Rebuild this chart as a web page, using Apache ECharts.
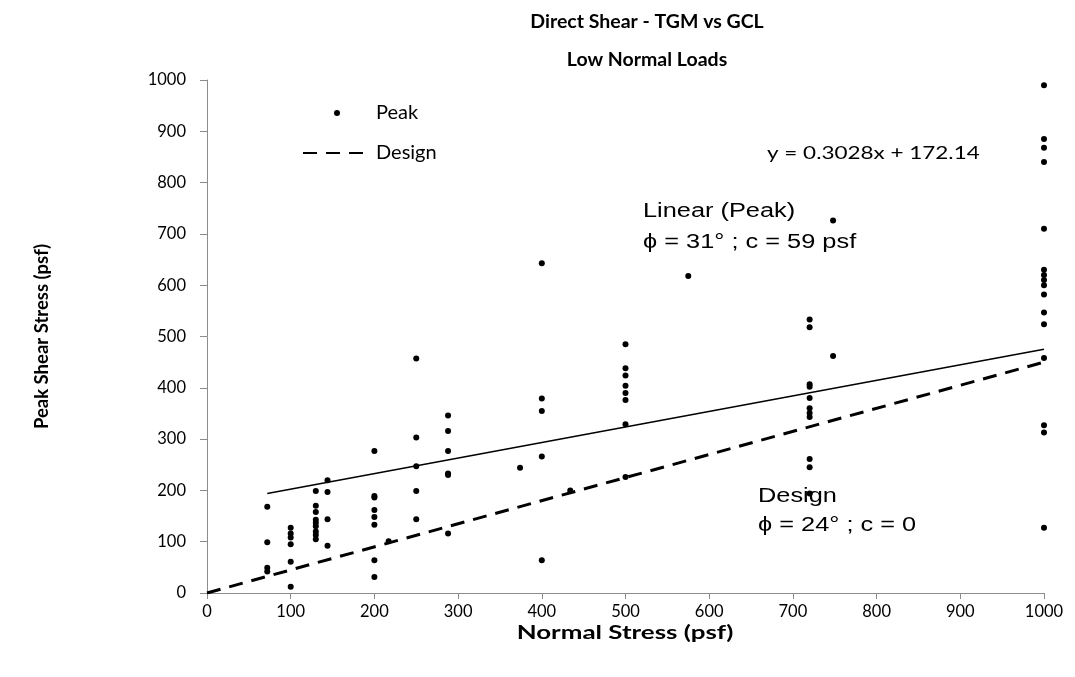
<!DOCTYPE html>
<html>
<head>
<meta charset="utf-8">
<script src="https://cdn.jsdelivr.net/npm/echarts@6/dist/echarts.min.js"></script>
<style>html,body{margin:0;padding:0;background:#fff}#c{width:1075px;height:677px}</style>
</head>
<body>
<div id="c"></div>
<script>
// Normal stress groups (psf) and peak shear stress readings (psf)
const normalStress = [72, 100, 130, 144, 200, 217, 250, 288, 374, 400, 434, 500, 575, 720, 748, 1000];
const peakShear = [
  [168, 99, 49, 42],
  [127, 116, 108, 95, 61, 12],
  [199, 170, 158, 143, 137, 130, 120, 113, 105],
  [220, 197, 144, 92],
  [277, 189, 186, 162, 148, 133, 64, 31],
  [101],
  [457, 303, 247, 199, 144],
  [346, 316, 277, 233, 230, 116],
  [244],
  [643, 379, 355, 266, 64],
  [200],
  [485, 438, 424, 404, 390, 376, 329, 226],
  [618],
  [533, 518, 407, 402, 380, 360, 351, 343, 261, 245, 194],
  [726, 462],
  [990, 885, 868, 840, 710, 630, 620, 610, 600, 582, 547, 524, 458, 327, 313, 127]
];
// Linear trend of Peak (from the chart's equation)
const trendSlope = 0.3028;
const trendIntercept = 172.14;
const trendX = [72, 1000];
// Design envelope (phi = 24 deg, c = 0)
const designX = [0, 1000];
const designY = [0, 450];
const yTicks = [0, 100, 200, 300, 400, 500, 600, 700, 800, 900, 1000];

const peakPoints = [];
normalStress.forEach((x, i) => peakShear[i].forEach(y => peakPoints.push([x, y])));
const trendPoints = trendX.map(x => [x, trendSlope * x + trendIntercept]);
const designPoints = designX.map((x, i) => [x, designY[i]]);

const calibri = 'Lato, Carlito, "Open Sans", sans-serif';
const arial = '"Liberation Sans", Arial, sans-serif';
const SX = 1.3; // horizontal stretch seen in the reference text

function label(x, y, text, font, align, sx) {
  return {type: 'text', x: x, y: y, scaleX: sx, z: 10,
    style: {x: 0, y: 0, text: text, font: font, fill: '#000', align: align || 'left', verticalAlign: 'middle'}};
}

const chart = echarts.init(document.getElementById('c'), null, {renderer: 'canvas'});
chart.setOption({
  animation: false,
  backgroundColor: '#ffffff',
  title: {
    text: 'Direct Shear - TGM vs GCL\nLow Normal Loads',
    left: 642, top: -2, textAlign: 'center',
    textStyle: {fontFamily: calibri, fontWeight: 'bold', fontSize: 19.5, color: '#000', lineHeight: 38}
  },
  grid: {left: 207, right: 31, top: 80, bottom: 84, containLabel: false},
  legend: {
    orient: 'vertical', left: 297, top: 98, itemWidth: 68, itemHeight: 6, itemGap: 20,
    textStyle: {fontFamily: calibri, fontSize: 20, color: '#000'},
    data: [
      {name: 'Peak', icon: 'circle'},
      {name: 'Design', itemStyle: {color: 'rgba(0,0,0,0)', borderWidth: 0}}
    ],
    selectedMode: false
  },
  xAxis: {
    type: 'value', min: 0, max: 1000, interval: 100,
    axisLine: {show: true, onZero: false, lineStyle: {color: '#8c8c8c', width: 1}},
    axisTick: {show: true, inside: false, length: 6, lineStyle: {color: '#8c8c8c'}},
    axisLabel: {fontFamily: calibri, fontSize: 16.5, color: '#000', margin: 10, formatter: v => String(v)},
    splitLine: {show: false}
  },
  yAxis: {
    type: 'value', min: 0, max: 1000, interval: 100,
    name: 'Peak Shear Stress (psf)', nameLocation: 'middle', nameGap: 155, nameRotate: 90,
    nameTextStyle: {fontFamily: calibri, fontWeight: 'bold', fontSize: 18.5, color: '#000'},
    axisLine: {show: true, onZero: false, lineStyle: {color: '#8c8c8c', width: 1}},
    axisTick: {show: true, inside: false, length: 7, lineStyle: {color: '#8c8c8c'}},
    axisLabel: {fontFamily: calibri, fontSize: 16.5, color: '#000', margin: 21,
      formatter: v => yTicks.includes(v) ? String(v) : ''},
    splitLine: {show: false}
  },
  series: [
    {
      name: 'Peak', type: 'scatter', data: peakPoints,
      symbol: 'circle', symbolSize: 6, itemStyle: {color: '#000', opacity: 1}, z: 5
    },
    {
      name: 'Design', type: 'line', data: designPoints, symbol: 'none',
      lineStyle: {color: '#000', width: 3, type: [14, 9]}, itemStyle: {color: '#000'}, z: 3
    },
    {
      name: 'Linear (Peak)', type: 'line', data: trendPoints, symbol: 'none',
      lineStyle: {color: '#000', width: 1.5}, z: 3
    }
  ],
  graphic: [
    label(625, 633, 'Normal Stress (psf)', 'bold 18.5px ' + calibri, 'center', 1.4),
    label(767, 153, 'y = 0.3028x + 172.14', '17.3px ' + calibri, 'left', SX),
    label(643, 212, 'Linear (Peak)', '19.5px ' + arial, 'left', SX),
    label(643, 243, '\u03D5 = 31\u00B0 ; c = 59 psf', '19.5px ' + arial, 'left', SX),
    label(758, 497, 'Design', '19.5px ' + arial, 'left', SX),
    label(758, 526, '\u03D5 = 24\u00B0 ; c = 0', '19.5px ' + arial, 'left', SX)
  ]
});
</script>
</body>
</html>
